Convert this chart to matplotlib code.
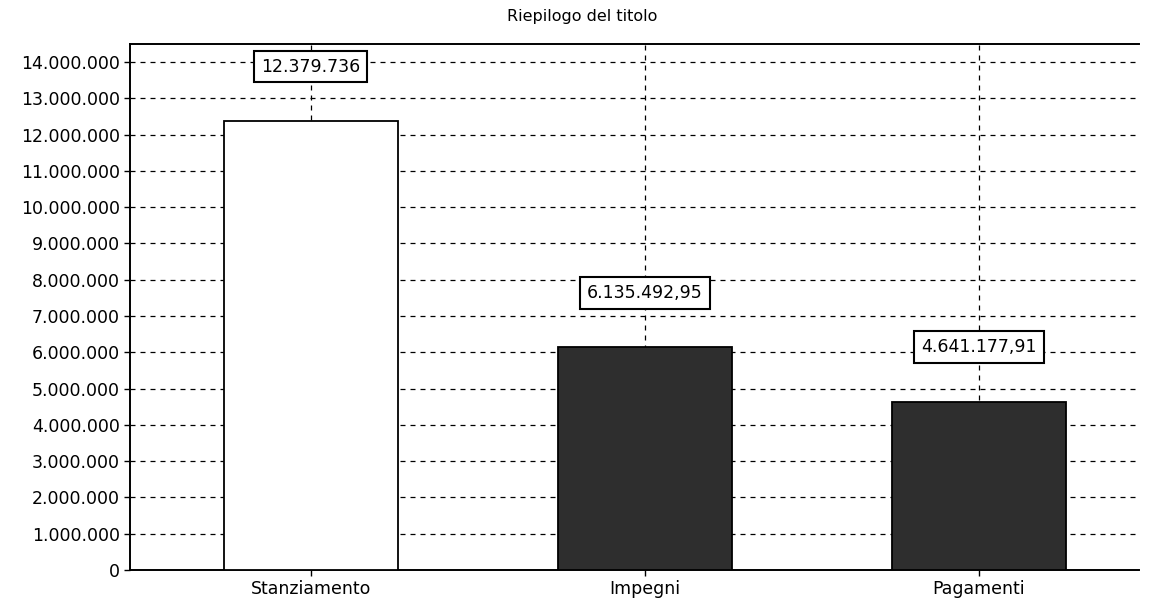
import matplotlib
matplotlib.use("Agg")
import matplotlib.pyplot as plt
from matplotlib.ticker import FuncFormatter, MultipleLocator

categories = ["Stanziamento", "Impegni", "Pagamenti"]
values = [12379736, 6135492.95, 4641177.91]
value_labels = ["12.379.736", "6.135.492,95", "4.641.177,91"]
bar_colors = ["white", "#2e2e2e", "#2e2e2e"]

plt.rcParams["font.family"] = ["DejaVu Sans"]

fig = plt.figure(figsize=(11.53, 6.03), dpi=100)
ax = fig.add_axes([0.113, 0.055, 0.875, 0.872])

xs = list(range(len(categories)))
ax.bar(xs, values, width=0.52, color=bar_colors, edgecolor="black", linewidth=1.3, zorder=3)

for x, v, lab in zip(xs, values, value_labels):
    ax.text(x, v + 1.5e6, lab, ha="center", va="center", fontsize=12.5, zorder=5,
            bbox=dict(boxstyle="square,pad=0.4", facecolor="white", edgecolor="black", linewidth=1.5))

ax.set_xlim(-0.54, 2.48)
ax.set_ylim(0, 14.5e6)
ax.yaxis.set_major_locator(MultipleLocator(1e6))
ax.yaxis.set_major_formatter(FuncFormatter(lambda v, p: f"{v:,.0f}".replace(",", ".")))
ax.set_xticks(xs)
ax.set_xticklabels(categories)
ax.tick_params(axis="both", labelsize=12.5, length=4, width=1, direction="out", colors="black")

ax.grid(True, axis="both", color="black", linestyle=(0, (4, 4)), linewidth=0.9, zorder=0)
ax.set_axisbelow(True)
for side in ["left", "bottom", "top"]:
    ax.spines[side].set_linewidth(1.4)
ax.spines["right"].set_visible(False)

fig.suptitle("Riepilogo del titolo", x=0.505, y=0.985, fontsize=11.5)

fig.savefig("out.png", dpi=100)
